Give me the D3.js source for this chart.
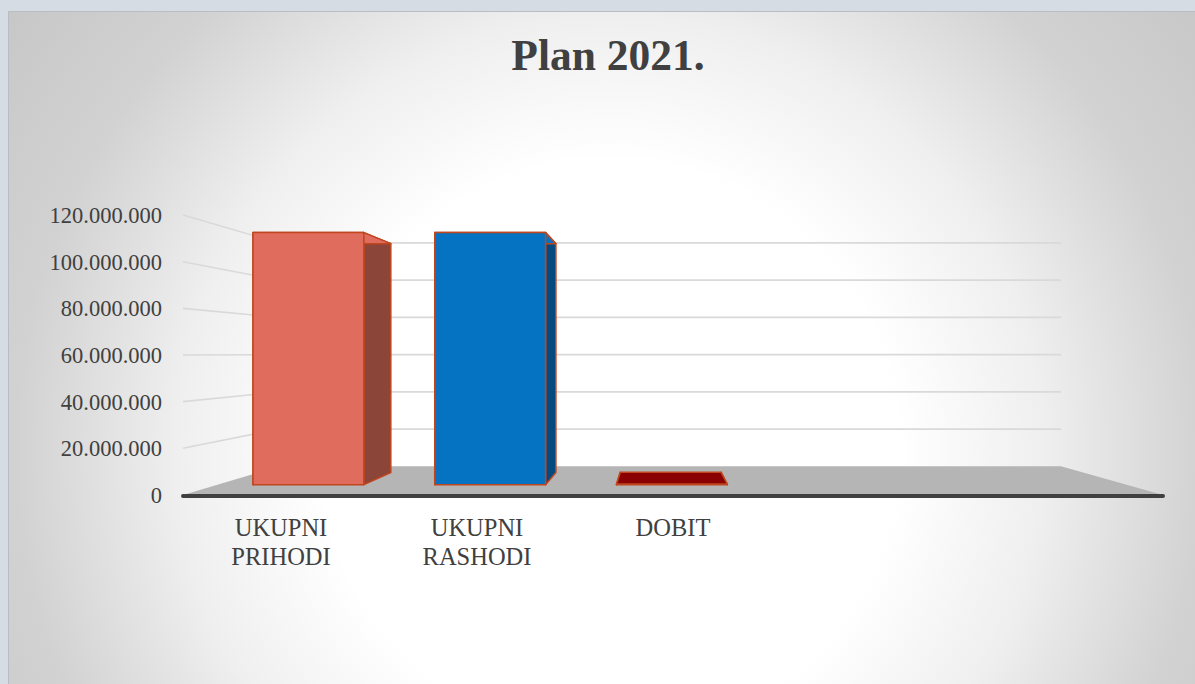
<!DOCTYPE html>
<html lang="en">
<head>
<meta charset="utf-8">
<title>Plan 2021.</title>
<script src="https://cdn.jsdelivr.net/npm/d3@7"></script>
<style>
  body { margin: 0; background: #d6dce4; }
  svg { display: block; }
  text { font-family: "Palatino Linotype", "Book Antiqua", Palatino, "Liberation Serif", serif; fill: #404040; }
</style>
</head>
<body>
<div id="chart"></div>
<script>
// chart data
let categories = ["UKUPNI PRIHODI", "UKUPNI RASHODI", "DOBIT", "", ""]
let values = [116500000, 116500000, 200000, null, null]
let yTicks = [0, 20000000, 40000000, 60000000, 80000000, 100000000, 120000000]
let barFront = ["#e06c5e", "#0672c2", "#8b0000"]
let barSide = ["#8b4539", "#044a80", "#6a0000"]

let width = 1195
let height = 684

// front plane of the 3d box, plus the vanishing point
let plotLeft = 183, plotRight = 1163
let plotBase = 495, plotTop = 215
let vx = 658, vy = 353
let backScale = 0.798
let k = 1 / backScale - 1
let zFront = 0.31, zBack = 0.74

function project(x, y, z) {
  let s = 1 / (1 + k * z)
  return [vx + (x - vx) * s, vy + (y - vy) * s]
}

let xScale = d3.scaleBand()
  .domain(d3.range(categories.length))
  .range([plotLeft, plotRight])
  .paddingInner(0.39)
  .paddingOuter(0.195)

let yScale = d3.scaleLinear()
  .domain([0, 120000000])
  .range([plotBase, plotTop])

let fmt = (d) => d3.format(",")(d).replace(/,/g, ".")

let svg = d3.select("#chart").append("svg")
  .attr("width", width)
  .attr("height", height)

let grad = svg.append("defs").append("radialGradient")
  .attr("id", "bg")
  .attr("gradientUnits", "userSpaceOnUse")
  .attr("cx", 610).attr("cy", 450).attr("r", 760)
grad.append("stop").attr("offset", 0.38).attr("stop-color", "#ffffff")
grad.append("stop").attr("offset", 0.57).attr("stop-color", "#efefef")
grad.append("stop").attr("offset", 0.78).attr("stop-color", "#d2d2d2")
grad.append("stop").attr("offset", 1).attr("stop-color", "#c6c6c6")

svg.append("rect")
  .attr("x", 8.5).attr("y", 11.5)
  .attr("width", width).attr("height", height)
  .attr("fill", "url(#bg)")
  .attr("stroke", "#b9bdc3")

svg.append("text")
  .attr("x", 608)
  .attr("y", 70)
  .attr("text-anchor", "middle")
  .attr("font-size", 43.5)
  .attr("font-weight", "bold")
  .text("Plan 2021.")

let line = d3.line()

// floor
svg.append("path")
  .attr("d", line([project(plotLeft, plotBase, 0), project(plotRight, plotBase, 0), project(plotRight, plotBase, 1), project(plotLeft, plotBase, 1)]) + "Z")
  .attr("fill", "#b5b5b5")

// gridlines: side wall and back wall
let grid = svg.append("g")
  .attr("stroke", "#d9d9d9")
  .attr("stroke-width", 1.6)
  .attr("fill", "none")

yTicks.filter((d) => d > 0).forEach((d) => {
  grid.append("path")
    .attr("d", line([project(plotLeft, yScale(d), 0), project(plotLeft, yScale(d), 1), project(plotRight, yScale(d), 1)]))
})

// y labels
svg.append("g")
  .selectAll("text")
  .data(yTicks)
  .enter()
  .append("text")
    .attr("x", 162)
    .attr("y", (d) => yScale(d))
    .attr("dy", "0.35em")
    .attr("text-anchor", "end")
    .attr("font-size", 22.5)
    .text((d) => fmt(d))

// bars
let bars = svg.append("g")
  .attr("stroke", "#c0461e")
  .attr("stroke-width", 1.5)
  .attr("stroke-linejoin", "round")

values.forEach((v, i) => {
  if (v == null) return
  let x0 = xScale(i)
  let x1 = x0 + xScale.bandwidth()
  let y0 = yScale(0)
  let y1 = yScale(v)
  let face = (pts, color) => bars.append("path").attr("d", line(pts) + "Z").attr("fill", color)

  face([project(x0, y1, zFront), project(x0, y0, zFront), project(x0, y0, zBack), project(x0, y1, zBack)], barSide[i])
  face([project(x1, y1, zFront), project(x1, y0, zFront), project(x1, y0, zBack), project(x1, y1, zBack)], barSide[i])
  face([project(x0, y1, zFront), project(x1, y1, zFront), project(x1, y1, zBack), project(x0, y1, zBack)], barFront[i])
  face([project(x0, y1, zFront), project(x1, y1, zFront), project(x1, y0, zFront), project(x0, y0, zFront)], barFront[i])
})

// front edge of the floor
svg.append("line")
  .attr("x1", plotLeft).attr("x2", plotRight)
  .attr("y1", plotBase + 1).attr("y2", plotBase + 1)
  .attr("stroke", "#404040")
  .attr("stroke-width", 4)
  .attr("stroke-linecap", "round")

// category labels
let labels = svg.append("g")
categories.forEach((c, i) => {
  if (!c) return
  let t = labels.append("text")
    .attr("x", xScale(i) + xScale.bandwidth() / 2)
    .attr("y", 536)
    .attr("text-anchor", "middle")
    .attr("font-size", 24.5)
  c.split(" ").forEach((w, j) => {
    t.append("tspan")
      .attr("x", xScale(i) + xScale.bandwidth() / 2)
      .attr("dy", j == 0 ? 0 : 29)
      .text(w)
  })
})
</script>
</body>
</html>
